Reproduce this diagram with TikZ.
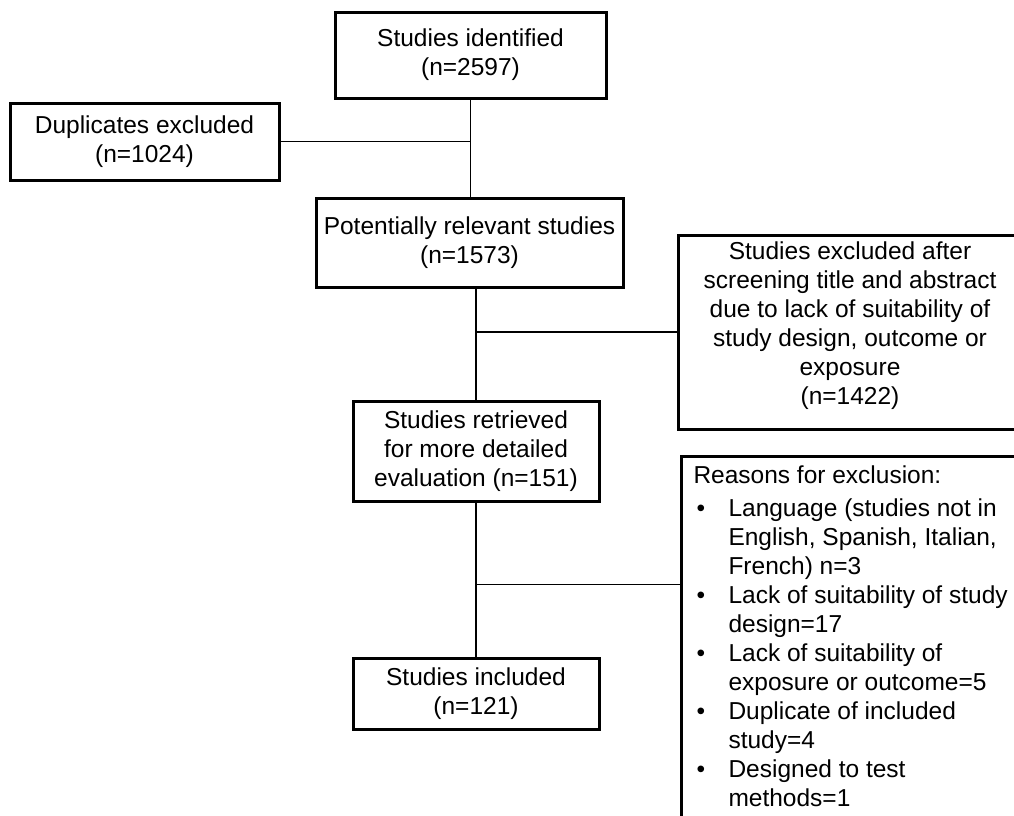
\documentclass[tikz,border=0pt]{standalone}
\usepackage{fontspec}
\setmainfont{Liberation Sans}
\usetikzlibrary{calc}
\newcommand{\bul}{\makebox[35pt][l]{\hspace{3pt}\textbullet}}
\newcommand{\ind}{\hspace*{35pt}}

\begin{document}
\begin{tikzpicture}[x=1pt, y=-1pt,
                    every node/.style={draw, line width=3pt, align=center, inner sep=0pt,
                                       font=\fontsize{24.5}{29}\selectfont},
                    link/.style={line width=1.2pt}]
\clip (0,0) rectangle (1014,815);
\fill[white] (0,0) rectangle (1014,815);
\node[minimum width=271pt, minimum height=86pt] (ident) at (470.5,55) {Studies identified\\(n=2597)};
\node[minimum width=269pt, minimum height=77pt] (dup) at (144.5,141.5) {Duplicates excluded\\(n=1024)};
\node[minimum width=307pt, minimum height=89pt] (pot) at (469.5,242.5) {Potentially relevant studies\\(n=1573)};
\node[minimum width=344pt, minimum height=194pt, text depth=17pt] (scr) at (850,332) {Studies excluded after\\screening title and abstract\\due to lack of suitability of\\study design, outcome or\\exposure\\(n=1422)};
\node[minimum width=246pt, minimum height=100pt] (retr) at (476,451) {Studies retrieved\\for more detailed\\evaluation (n=151)};
\node[minimum width=246pt, minimum height=71pt] (incl) at (476,693.5) {Studies included\\(n=121)};
\node[anchor=north west, align=left, inner xsep=12pt, inner ysep=9pt, text depth=40pt] (reas) at (680,455)
  {Reasons for exclusion:\\[4pt]
   \bul Language (studies not in\\
   \ind English, Spanish, Italian,\\
   \ind French) n=3\\
   \bul Lack of suitability of study\\
   \ind design=17\\
   \bul Lack of suitability of\\
   \ind exposure or outcome=5\\
   \bul Duplicate of included\\
   \ind study=4\\
   \bul Designed to test\\
   \ind methods=1};
\draw[link] (ident.south) -- (ident.south |- pot.north);
\draw[link] (dup.east) -- (dup.east -| ident.south);
\draw[link] (retr.north |- pot.south) -- (retr.north);
\draw[link] (scr.west) -- (scr.west -| retr.north);
\draw[link] (retr.south) -- (incl.north);
\coordinate (jn) at ($(retr.south)!0.53!(incl.north)$);
\draw[link] (jn) -- (jn -| reas.west);
\end{tikzpicture}
\end{document}
